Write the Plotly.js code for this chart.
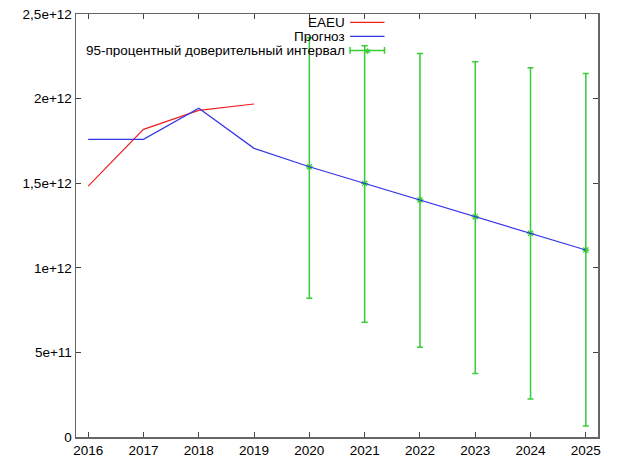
<!DOCTYPE html>
<html><head><meta charset="utf-8">
<script src="https://cdn.plot.ly/plotly-3.0.1.min.js"></script>
<style>html,body{margin:0;padding:0;background:#fff}#chart{width:620px;height:463px}</style>
</head><body><div id="chart"></div>
<script>
// Data
const eaeuYears = [2016, 2017, 2018, 2019];
const eaeuValues = [1.483e12, 1.818e12, 1.930e12, 1.968e12];
const forecastYears = [2016, 2017, 2018, 2019, 2020, 2021, 2022, 2023, 2024, 2025];
const forecastValues = [1.759e12, 1.759e12, 1.943e12, 1.706e12, 1.597e12, 1.499e12, 1.401e12, 1.302e12, 1.204e12, 1.105e12];
const ciYears = [2020, 2021, 2022, 2023, 2024, 2025];
const ciCenter = [1.597e12, 1.499e12, 1.401e12, 1.302e12, 1.204e12, 1.105e12];
const ciLower = [0.820e12, 0.678e12, 0.530e12, 0.376e12, 0.225e12, 0.065e12];
const ciUpper = [2.360e12, 2.313e12, 2.267e12, 2.218e12, 2.183e12, 2.149e12];
const xTickVals = [2016, 2017, 2018, 2019, 2020, 2021, 2022, 2023, 2024, 2025];
const yTickVals = [0, 5e11, 1e12, 1.5e12, 2e12, 2.5e12];
const yTickText = ['0', '5e+11', '1e+12', '1,5e+12', '2e+12', '2,5e+12'];
const legendNames = ['EAEU', 'Прогноз', '95-процентный доверительный интервал'];

const RED = '#ee2020', BLUE = '#3535e8', GREEN = '#38cc38';
const FONT = 'Liberation Sans, Arial, sans-serif';

const traces = [
  {x: ciYears, y: ciCenter, type: 'scatter', mode: 'markers', name: legendNames[2],
   marker: {symbol: 'asterisk-open', size: 6, color: GREEN, line: {color: GREEN, width: 1.2}},
   error_y: {type: 'data', symmetric: false,
     array: ciUpper.map((u, i) => u - ciCenter[i]),
     arrayminus: ciLower.map((l, i) => ciCenter[i] - l),
     color: GREEN, thickness: 1.5, width: 3}},
  {x: eaeuYears, y: eaeuValues, type: 'scatter', mode: 'lines', name: legendNames[0],
   line: {color: RED, width: 1.2}},
  {x: forecastYears, y: forecastValues, type: 'scatter', mode: 'lines', name: legendNames[1],
   line: {color: BLUE, width: 1.2}}
];

// custom gnuplot-style legend (text right-aligned, sample to the right)
const rowsY = [0.980, 0.947, 0.914];
const textX = 0.517, s0 = 0.525, s1 = 0.591;
const annotations = legendNames.map((t, i) => ({
  xref: 'paper', yref: 'paper', x: textX, y: rowsY[i], text: t, showarrow: false,
  xanchor: 'right', yanchor: 'middle', height: 13, borderpad: 0,
  font: {family: FONT, size: 13.5, color: '#000'}
}));
const shapes = [
  {type: 'line', xref: 'paper', yref: 'paper', x0: s0, x1: s1, y0: rowsY[0], y1: rowsY[0], line: {color: RED, width: 1.2}},
  {type: 'line', xref: 'paper', yref: 'paper', x0: s0, x1: s1, y0: rowsY[1], y1: rowsY[1], line: {color: BLUE, width: 1.2}},
  {type: 'line', xref: 'paper', yref: 'paper', x0: s0, x1: s1, y0: rowsY[2], y1: rowsY[2], line: {color: GREEN, width: 1.5}},
  {type: 'line', xref: 'paper', yref: 'paper', x0: s0, x1: s0, y0: rowsY[2] - 0.008, y1: rowsY[2] + 0.008, line: {color: GREEN, width: 1.5}},
  {type: 'line', xref: 'paper', yref: 'paper', x0: s1, x1: s1, y0: rowsY[2] - 0.008, y1: rowsY[2] + 0.008, line: {color: GREEN, width: 1.5}}
];
const sm = (s0 + s1) / 2;
annotations.push({xref: 'paper', yref: 'paper', x: sm, y: rowsY[2], text: '✱', showarrow: false,
  xanchor: 'center', yanchor: 'middle', font: {size: 8, color: GREEN}});

const axisCommon = {showgrid: false, zeroline: false, showline: true, linecolor: '#666', linewidth: 1.5,
  mirror: 'allticks', ticks: 'inside', ticklen: 5, tickcolor: '#444', tickwidth: 1,
  tickfont: {family: FONT, size: 13.5, color: '#000'}};

const layout = {
  width: 620, height: 463,
  margin: {l: 76, r: 22, t: 14, b: 26},
  paper_bgcolor: '#fff', plot_bgcolor: '#fff',
  showlegend: false,
  xaxis: Object.assign({}, axisCommon, {range: [2015.78, 2025.22], tickvals: xTickVals, ticktext: xTickVals.map(String)}),
  yaxis: Object.assign({}, axisCommon, {range: [0, 2.5e12], tickvals: yTickVals, ticktext: yTickText}),
  annotations: annotations, shapes: shapes
};
Plotly.newPlot('chart', traces, layout, {displayModeBar: false, staticPlot: true});
</script></body></html>
